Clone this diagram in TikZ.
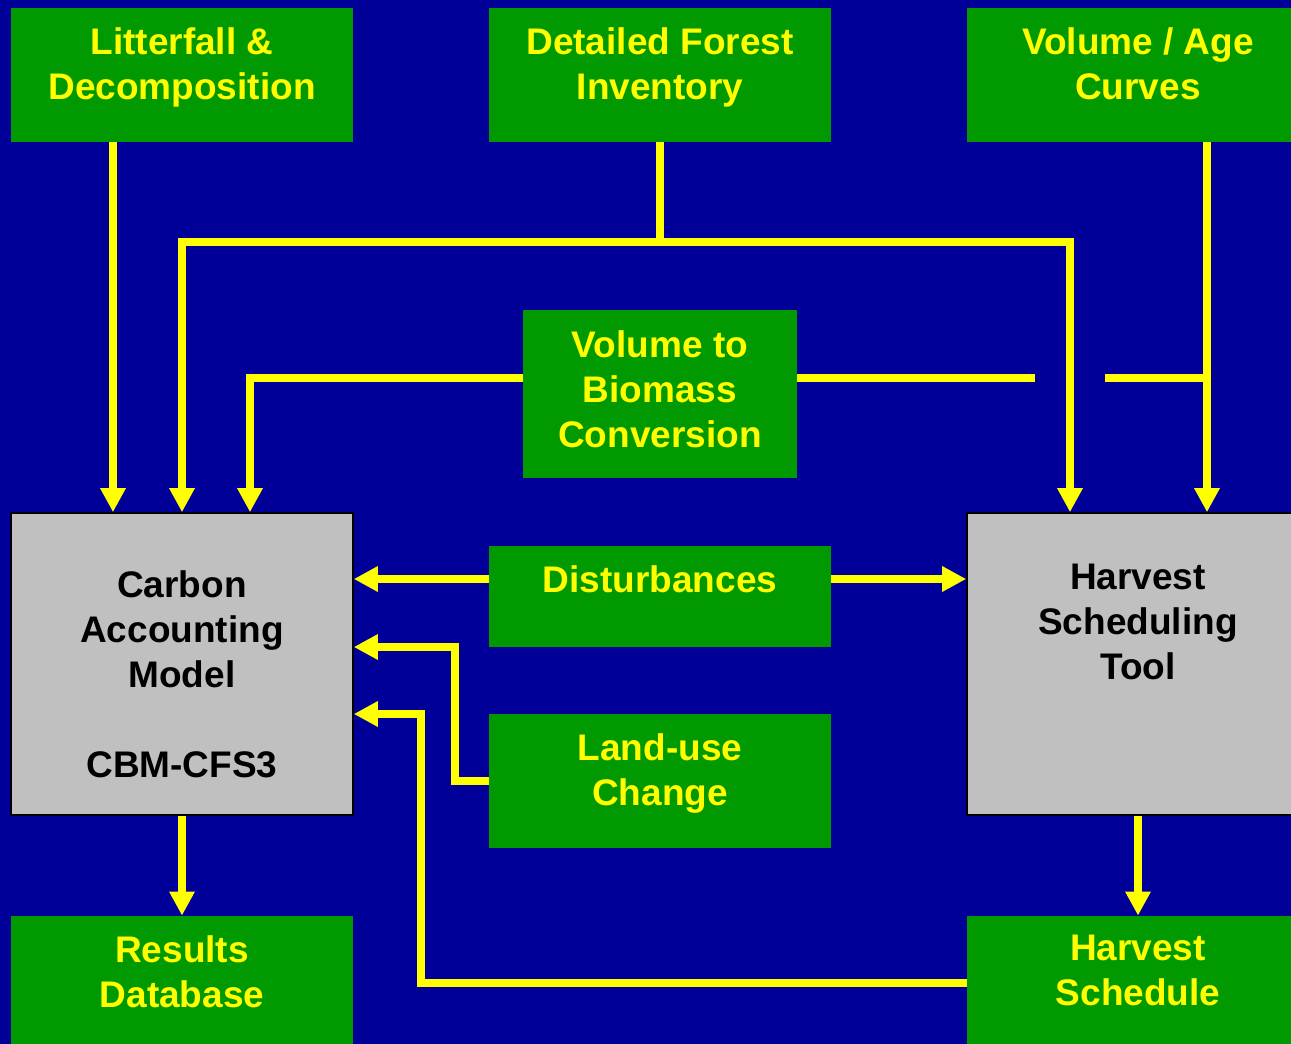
\documentclass[tikz,border=0pt]{standalone}
\usepackage{fontspec}
\setmainfont{Liberation Sans}
\usetikzlibrary{arrows.meta, positioning}
\definecolor{navy}{RGB}{0,0,153}
\definecolor{leaf}{RGB}{0,153,0}
\definecolor{gold}{RGB}{255,255,0}
\definecolor{panel}{RGB}{192,192,192}

\begin{document}
\begin{tikzpicture}[x=0.5pt, y=-0.5pt,
  gbox/.style={fill=leaf, minimum width=171pt, minimum height=67pt, inner sep=0pt},
  tbox/.style={fill=panel, draw=black, line width=0.8pt, minimum width=171pt, minimum height=151pt, inner sep=0pt},
  lbl/.style={font=\fontsize{18.5}{22.5}\selectfont\bfseries, align=center, inner sep=0pt, anchor=north, text=gold},
  flow/.style={draw=gold, line width=3.75pt, -{Triangle[width=12pt,length=12pt]}},
  link/.style={draw=gold, line width=3.75pt}]
%%-- Canvas ----------------------------------------------
\clip (0,0) rectangle (1291,1044);
\fill[navy] (0,0) rectangle (1291,1044);
%%-- Input boxes (top row) -------------------------------
\node[gbox] (lit) at (182,75) {};
\node[lbl] (litT) at ([yshift=-9.6pt]lit.north) {Litterfall \&\\Decomposition};
\node[gbox] (dfi) at (660,75) {};
\node[lbl] (dfiT) at ([yshift=-9.6pt]dfi.north) {Detailed Forest\\Inventory};
\node[gbox] (vac) at (1138,75) {};
\node[lbl] (vacT) at ([yshift=-9.6pt]vac.north) {Volume / Age\\Curves};
%%-- Conversion box --------------------------------------
\node[gbox, minimum width=137pt, minimum height=84pt] (vtb) at (660,394) {};
\node[lbl] (vtbT) at ([yshift=-10.1pt]vtb.north) {Volume to\\Biomass\\Conversion};
%%-- Models ----------------------------------------------
\node[tbox] (cam) at (182,664) {};
\node[lbl, text=black] (camT) at ([yshift=-29.1pt]cam.north) {Carbon\\Accounting\\Model\\[22.5pt]CBM-CFS3};
\node[tbox] (hst) at (1138,664) {};
\node[lbl, text=black] (hstT) at ([yshift=-25.6pt]hst.north) {Harvest\\Scheduling\\Tool};
%%-- Middle inputs ---------------------------------------
\node[gbox, minimum height=50.5pt] (dist) at (660,596.5) {};
\node[lbl] (distT) at ([yshift=-9.6pt]dist.north) {Disturbances};
\node[gbox] (luc) at (660,781) {};
\node[lbl] (lucT) at ([yshift=-9.6pt]luc.north) {Land-use\\Change};
%%-- Outputs ---------------------------------------------
\node[gbox] (res) at (182,983) {};
\node[lbl] (resT) at ([yshift=-9.6pt]res.north) {Results\\Database};
\node[gbox] (hsch) at (1138,983) {};
\node[lbl] (hschT) at ([yshift=-9.6pt]hsch.north) {Harvest\\Schedule};
%%-- Junctions and bends ---------------------------------
\coordinate (dfiJ) at (660,242);
\coordinate (hopL) at (1035,378);
\coordinate (hopR) at (1105,378);
\coordinate (vacJ) at (1207,378);
\coordinate (luBend) at (455,647);
\coordinate (hsBend) at (421,714);
%%-- Connectors ------------------------------------------
\draw[flow] ([xshift=-34.5pt]lit.south) -- ([xshift=-34.5pt]cam.north);
\draw[flow] (dfi.south) -- (dfiJ) -| (cam.north);
\draw[flow] (dfiJ) -| ([xshift=-34pt]hst.north);
\draw[flow] ([yshift=8pt]vtb.west) -| ([xshift=34pt]cam.north);
\draw[link] ([yshift=8pt]vtb.east) -- (hopL);
\draw[link] (hopR) -- (vacJ);
\draw[flow] ([xshift=34.5pt]vac.south) -- ([xshift=34.5pt]hst.north);
\draw[flow] ([yshift=8.75pt]dist.west) -- ([yshift=42.5pt]cam.east);
\draw[flow] ([yshift=8.75pt]dist.east) -- ([yshift=42.5pt]hst.west);
\draw[flow] (luc.west) -| (luBend) |- ([yshift=8.5pt]cam.east);
\draw[flow] (hsch.west) -| (hsBend) |- ([yshift=-25pt]cam.east);
\draw[flow] (cam.south) -- (res.north);
\draw[flow] (hst.south) -- (hsch.north);
\end{tikzpicture}
\end{document}
